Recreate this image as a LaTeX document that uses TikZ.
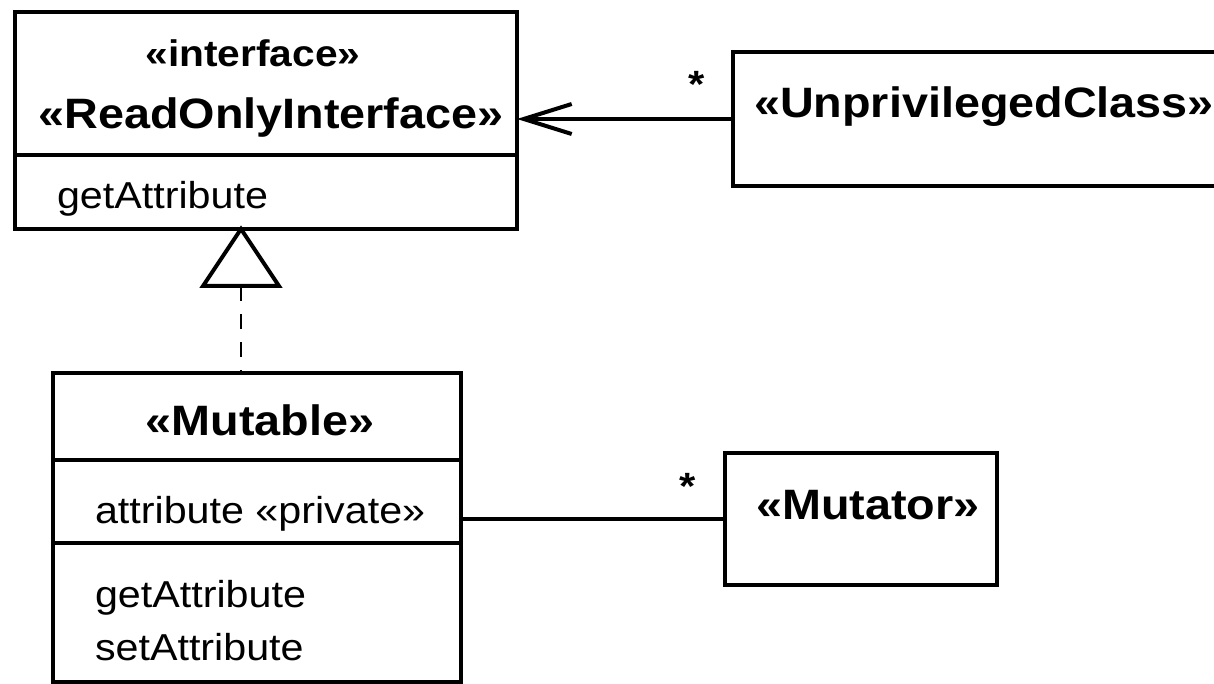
\documentclass[tikz,border=0pt]{standalone}
\usepackage{fontspec}
\setmainfont[FakeStretch=1.1]{Liberation Sans}
\usetikzlibrary{arrows.meta}

\tikzset{
  umlbox/.style={draw, line width=4pt, inner sep=0pt, outer sep=0pt, anchor=north west},
  stereo/.style={font=\fontsize{42.5}{51}\selectfont\bfseries, inner sep=0pt, anchor=base},
  member/.style={font=\fontsize{37.5}{45}\selectfont, inner sep=0pt, anchor=base west},
  mult/.style={font=\fontsize{38}{45}\selectfont\bfseries, inner sep=0pt, anchor=base},
  divider/.style={line width=4pt},
}

\begin{document}
\begin{tikzpicture}[x=1pt, y=-1pt, line width=4pt]
        \path[use as bounding box, clip] (0,0) rectangle (1214,684);

        % Class boxes
        \node[umlbox, minimum width=502pt, minimum height=217pt] (roi) at (15,12) {};
        \node[umlbox, minimum width=408pt, minimum height=309pt] (mutable) at (53,373) {};
        \node[umlbox, minimum width=272pt, minimum height=132pt] (mutator) at (725,453) {};
        \node[umlbox, minimum width=510pt, minimum height=134pt] (unpriv) at (733,52) {};

        % Compartment lines
        \draw[divider] (roi.west |- 0,155) -- (roi.east |- 0,155);
        \draw[divider] (mutable.west |- 0,460) -- (mutable.east |- 0,460);
        \draw[divider] (mutable.west |- 0,543) -- (mutable.east |- 0,543);

        % Names and members
        \node[stereo, font=\fontsize{37}{44}\selectfont\bfseries] (roikind) at (253,67) {«interface»};
        \node[stereo] (roiname) at (271,129) {«ReadOnlyInterface»};
        \node[member] (roiop) at (55,209) {getAttribute};

        \node[stereo] (mutname) at (260,435) {«Mutable»};
        \node[member] (mutattr) at (93,523) {attribute «private»};
        \node[member] (mutget) at (93,607) {getAttribute};
        \node[member] (mutset) at (93,660) {setAttribute};

        \node[stereo] (mtrname) at (868,519) {«Mutator»};
        \node[stereo, anchor=base west] (upname) at (752,118) {«UnprivilegedClass»};

        % Realization: hollow triangle and dashed line
        \coordinate (apex) at (241,229);
        \coordinate (base) at (241,286);
        \draw[line join=miter] (apex) -- (203,286) -- (279,286) -- cycle;
        \draw[line width=2pt, dash pattern=on 15pt off 13pt] (base) -- (base |- mutable.north);

        % Associations
        \draw[-{Straight Barb[length=48pt, width=30pt]}] (unpriv.west) -- (roi.east |- unpriv.west);
        \draw (mutator.west) -- (mutable.east |- mutator.west);

        % Multiplicities
        \node[mult] (upmult) at (697,98) {*};
        \node[mult] (mtrmult) at (688,499) {*};
    \end{tikzpicture}
\end{document}
